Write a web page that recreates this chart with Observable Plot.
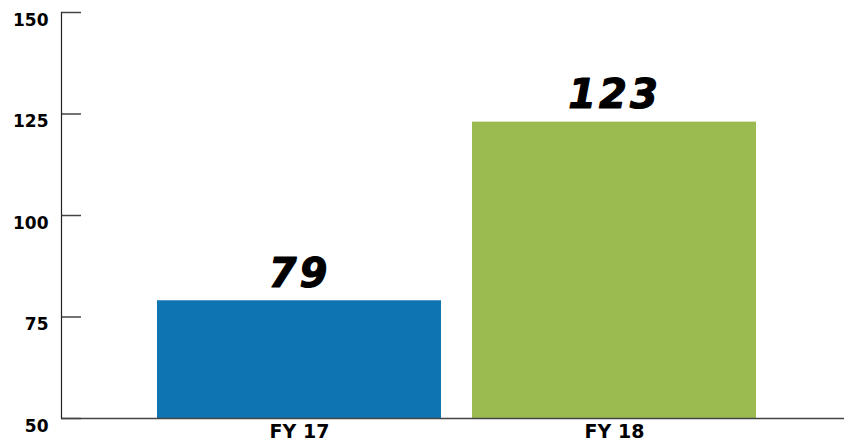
<!DOCTYPE html>
<html>
<head>
<meta charset="utf-8">
<script src="https://cdn.jsdelivr.net/npm/d3@7"></script>
<script src="https://cdn.jsdelivr.net/npm/@observablehq/plot@0.6"></script>
<style>
  html, body { margin: 0; padding: 0; background: #fff; }
  #chart svg { display: block; }
</style>
</head>
<body>
<div id="chart"></div>
<script>
const categories = ["FY 17", "FY 18"];
const values = [79, 123];
const colors = ["#0f75b2", "#9bbb51"];
const yTicks = [50, 75, 100, 125, 150];

const data = categories.map((c, i) => ({category: c, value: values[i], color: colors[i]}));

const W = 845, H = 446;
const mL = 61, mR = 1, mT = 12, mB = 28;

const chart = Plot.plot({
  width: W,
  height: H,
  marginLeft: mL,
  marginRight: mR,
  marginTop: mT,
  marginBottom: mB,
  style: {fontFamily: "DejaVu Sans", background: "#fff"},
  x: {domain: categories, range: [70, 844], paddingInner: 0.098, paddingOuter: 0.276, label: null},
  y: {domain: [50, 150], label: null},
  marks: [
    Plot.barY(data, {x: "category", y1: 50, y2: "value", fill: "color"}),
    Plot.ruleY(yTicks, {stroke: "#444", strokeWidth: 1.5, insetRight: (W - mL - mR) - 20}),
    Plot.ruleY([50], {stroke: "#444", strokeWidth: 1.6}),
    Plot.frame({anchor: "left", stroke: "#222", strokeWidth: 1.2}),
    Plot.axisY(yTicks, {tickSize: 0, tickPadding: 13, dy: 8, fontSize: 17, fontWeight: "bold", fill: "#000", stroke: "#000", strokeWidth: 0.5}),
    Plot.axisX({tickSize: 0, tickPadding: 6, fontSize: 19, fontWeight: "bold", fill: "#000", stroke: "#000", strokeWidth: 0.5}),
    Plot.text(data, {x: "category", y: "value", text: d => String(d.value), dy: -14, lineAnchor: "bottom",
      fontSize: 40, fontWeight: "bold", fontStyle: "italic", fill: "#000", stroke: "#000", strokeWidth: 1.2})
  ]
});

chart.querySelectorAll("text").forEach(t => {
  if (t.closest("g[aria-label='text']")) t.setAttribute("letter-spacing", "3");
});
document.getElementById("chart").appendChild(chart);
</script>
</body>
</html>
